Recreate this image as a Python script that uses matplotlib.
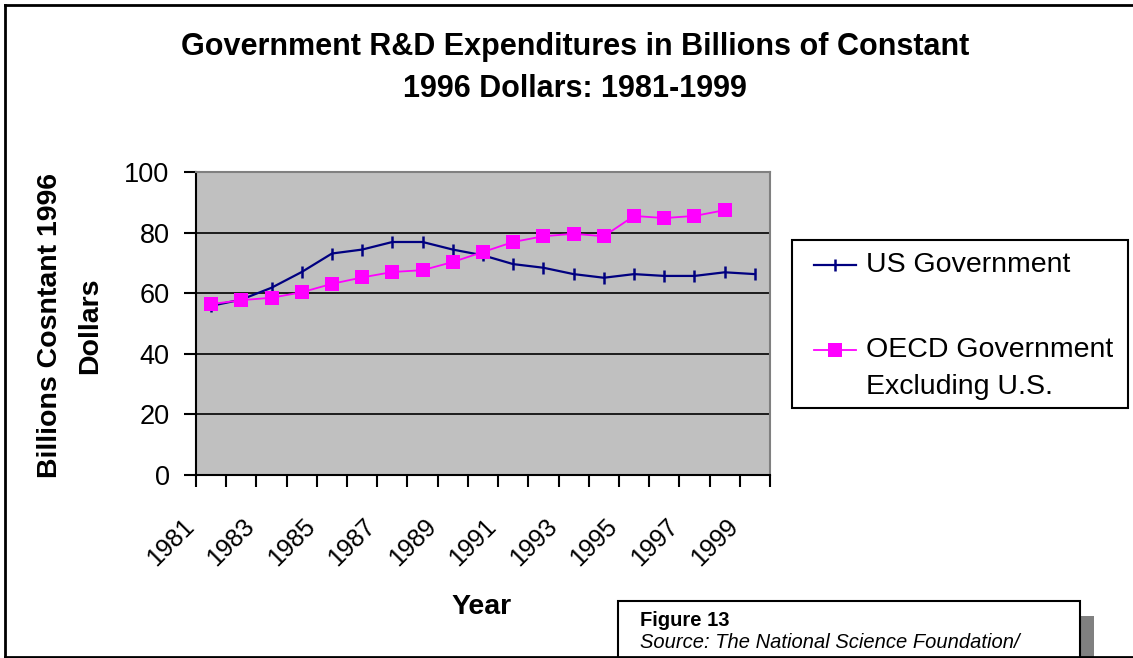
import matplotlib
matplotlib.use("Agg")
import matplotlib.pyplot as plt
import matplotlib.transforms as mtransforms
from matplotlib.patches import Rectangle
from matplotlib.lines import Line2D
import numpy as np

plt.rcParams['font.family'] = ['Liberation Sans', 'DejaVu Sans']

# ---- data -------------------------------------------------------------
years = list(range(1981, 2000))
us_government = [55.8, 57.9, 61.8, 67.0, 73.1, 74.4, 76.9, 76.9, 74.4, 72.5,
                 69.6, 68.4, 66.3, 65.1, 66.3, 65.7, 65.7, 66.9, 66.3]
oecd_excl_us = [56.4, 57.7, 58.5, 60.3, 63.1, 65.2, 67.0, 67.6, 70.3, 73.6,
                76.9, 78.8, 79.6, 78.8, 85.5, 84.8, 85.5, 87.4]
y_ticks = [0, 20, 40, 60, 80, 100]
series_names = ["US Government", "OECD Government", "Excluding U.S."]

W, H = 1133, 658
fig = plt.figure(figsize=(W / 100, H / 100), dpi=100)


def fx(px):
    return px / W


def fy(py):
    return 1 - py / H


# plot area
ax = fig.add_axes([fx(196), fy(475), (770 - 196) / W, (475 - 172) / H])
ax.set_facecolor('#C0C0C0')

x = np.arange(len(years))
ax.plot(x, us_government, color='#000080', lw=1.6, marker='|',
        markersize=8, markeredgewidth=1.8, zorder=3)
ax.plot(x[:len(oecd_excl_us)], oecd_excl_us, color='#FF00FF', lw=1.3,
        marker='s', markersize=9.5, markeredgewidth=0, zorder=4)

ax.set_xlim(-0.5, len(years) - 0.5)
ax.set_ylim(0, 100)

# gridlines
ax.set_yticks(y_ticks)
ax.set_yticklabels([str(v) for v in y_ticks], fontsize=19.5)
ax.yaxis.grid(True, color='black', lw=1.2)
ax.set_axisbelow(True)
ax.tick_params(axis='y', direction='out', length=9, width=1.5, pad=10)

# category boundary ticks and every-other year labels
ax.set_xticks(np.arange(-0.5, len(years), 1.0))
ax.set_xticklabels([])
ax.tick_params(axis='x', which='major', direction='out', length=8.5, width=1.5)
ax.set_xticks(x[::2], [str(y) for y in years[::2]], minor=True)
ax.tick_params(axis='x', which='minor', length=0, pad=28, labelsize=18)
shift = mtransforms.ScaledTranslation(-12 / 100, 0, fig.dpi_scale_trans)
for lab in ax.get_xticklabels(minor=True):
    lab.set_rotation(45)
    lab.set_ha('right')
    lab.set_va('top')
    lab.set_transform(lab.get_transform() + shift)

for side in ('top', 'right'):
    ax.spines[side].set_color('#808080')
    ax.spines[side].set_linewidth(1.5)
for side in ('left', 'bottom'):
    ax.spines[side].set_color('black')
    ax.spines[side].set_linewidth(1.5)

# titles
fig.text(fx(575), fy(47), "Government R&D Expenditures in Billions of Constant",
         ha='center', va='center', fontsize=22, fontweight='bold')
fig.text(fx(575), fy(89), "1996 Dollars: 1981-1999",
         ha='center', va='center', fontsize=22, fontweight='bold')
fig.text(fx(50), fy(326), "Billions Cosntant 1996", rotation=90,
         ha='center', va='center', fontsize=20.5, fontweight='bold')
fig.text(fx(90), fy(326), "Dollars", rotation=90,
         ha='center', va='center', fontsize=20.5, fontweight='bold')
fig.text(fx(482), fy(607), "Year", ha='center', va='center',
         fontsize=20.5, fontweight='bold')

# legend
fig.add_artist(Rectangle((fx(792), fy(408)), (1128 - 792) / W, (408 - 240) / H,
                         transform=fig.transFigure, facecolor='white',
                         edgecolor='black', lw=1.5))
fig.add_artist(Line2D([fx(814), fx(856)], [fy(265), fy(265)],
                      transform=fig.transFigure, color='#000080', lw=1.6))
fig.add_artist(Line2D([fx(835)], [fy(265)], transform=fig.transFigure,
                      color='#000080', marker='|', markersize=8,
                      markeredgewidth=1.8, lw=0))
fig.add_artist(Line2D([fx(814), fx(856)], [fy(350), fy(350)],
                      transform=fig.transFigure, color='#FF00FF', lw=1.3))
fig.add_artist(Line2D([fx(835)], [fy(350)], transform=fig.transFigure,
                      color='#FF00FF', marker='s', markersize=9.5,
                      markeredgewidth=0, lw=0))
fig.text(fx(866), fy(265), series_names[0], ha='left', va='center', fontsize=20.5)
fig.text(fx(866), fy(350), series_names[1], ha='left', va='center', fontsize=20.5)
fig.text(fx(866), fy(387), series_names[2], ha='left', va='center', fontsize=20.5)

# outer frame
for xs, ys in (([4.5, 4.5], [4.5, 657]), ([4.5, W], [4.5, 4.5]), ([4.5, W], [657, 657])):
    fig.add_artist(Line2D([fx(v) for v in xs], [fy(v) for v in ys],
                          transform=fig.transFigure, color='black', lw=2))

# figure caption box with shadow
fig.add_artist(Rectangle((fx(1081), fy(660)), 13 / W, (660 - 616) / H,
                         transform=fig.transFigure, facecolor='#808080',
                         edgecolor='none'))
fig.add_artist(Rectangle((fx(618), fy(662)), (1080 - 618) / W, (662 - 601) / H,
                         transform=fig.transFigure, facecolor='white',
                         edgecolor='black', lw=1.5))
fig.text(fx(640), fy(621), "Figure 13", ha='left', va='center',
         fontsize=14.5, fontweight='bold')
fig.text(fx(640), fy(642), "Source: The National Science Foundation/",
         ha='left', va='center', fontsize=14.5, fontstyle='italic')

fig.savefig("out.png", dpi=100)
